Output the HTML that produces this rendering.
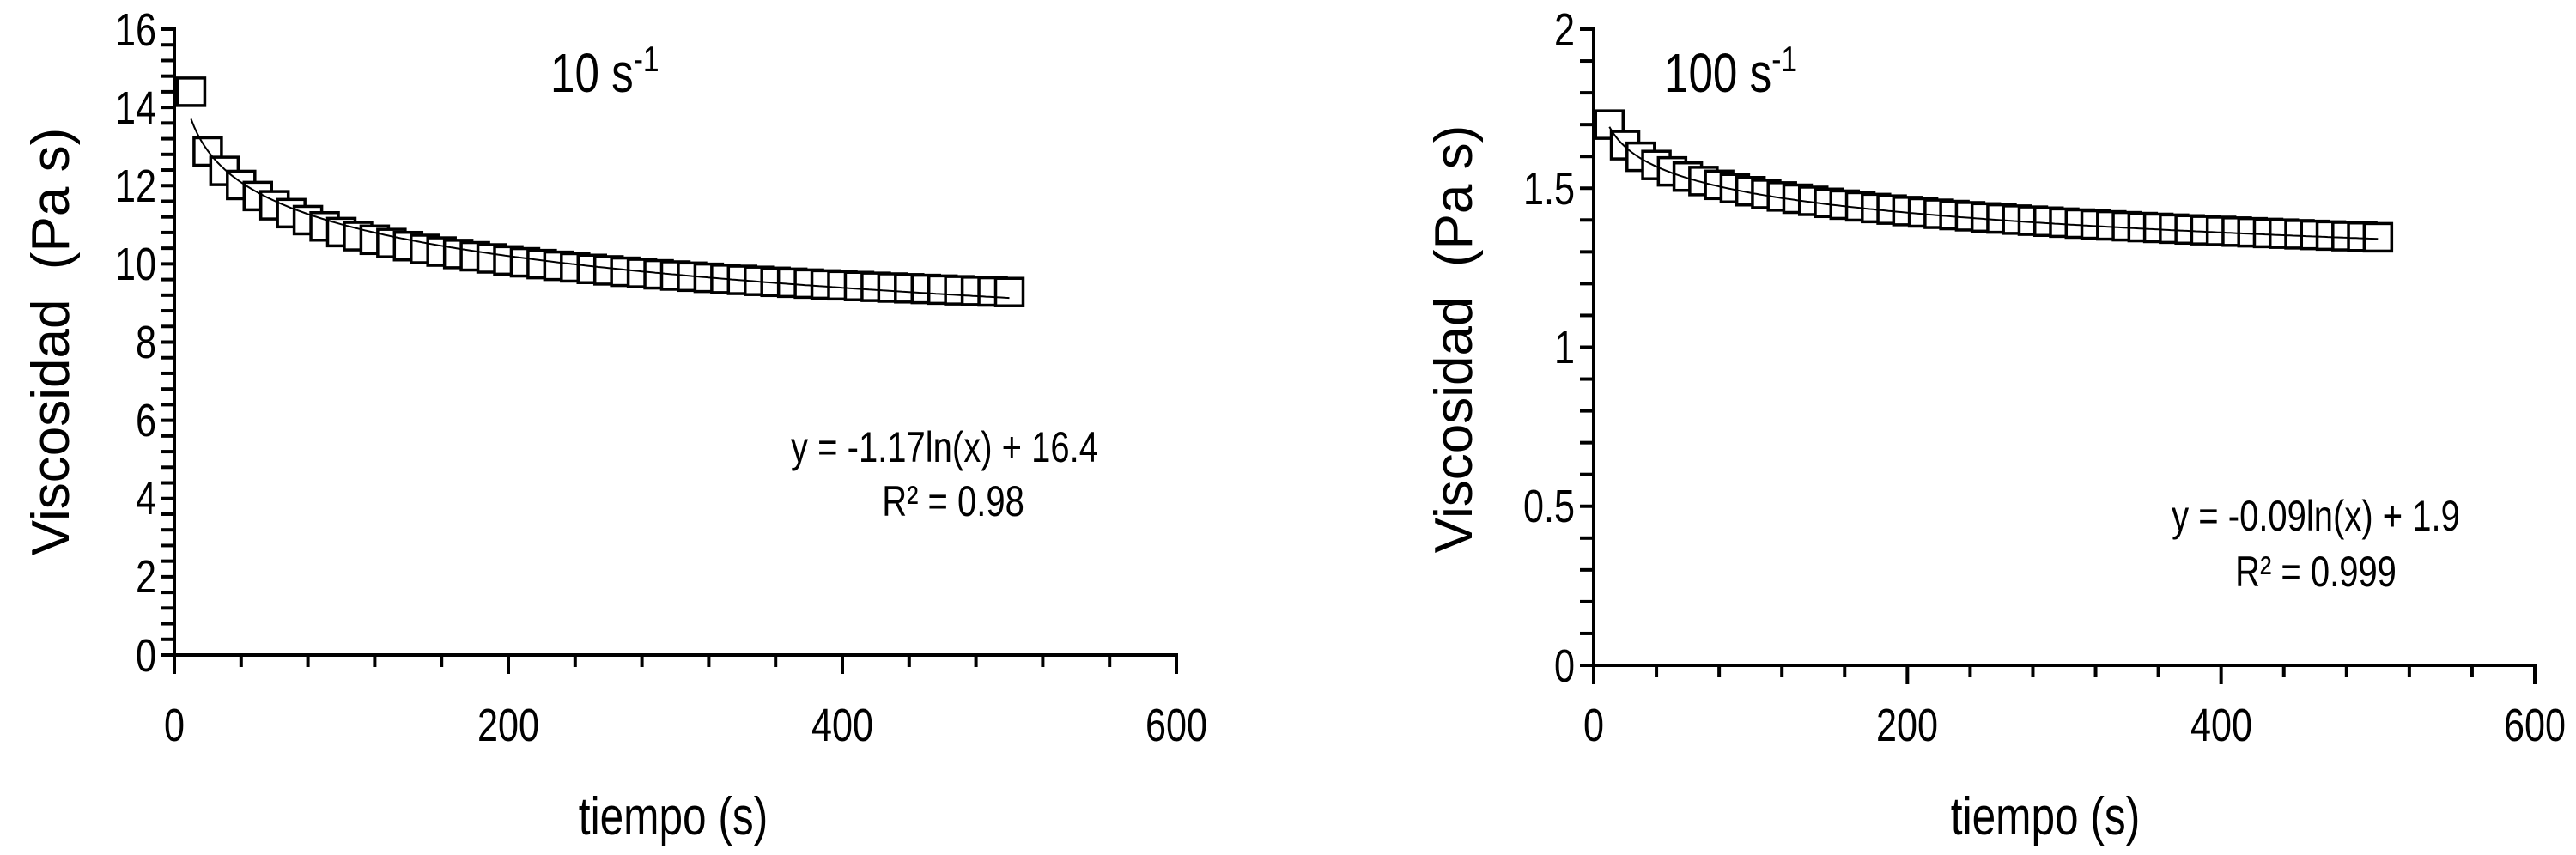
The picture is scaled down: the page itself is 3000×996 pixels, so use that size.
<!DOCTYPE html>
<html><head><meta charset="utf-8">
<style>
html,body{margin:0;padding:0;background:#fff;}
svg{display:block;}
.t{font-family:"Liberation Sans",sans-serif;fill:#000;}
.l{font-family:"Liberation Sans",sans-serif;fill:#000;}
</style></head>
<body>
<svg id="s" width="3000" height="996" viewBox="0 0 3000 996" xmlns="http://www.w3.org/2000/svg">
<text class="t" x="182" y="53" font-size="54" text-anchor="end">16</text>
<text class="t" x="182" y="144" font-size="54" text-anchor="end">14</text>
<text class="t" x="182" y="235" font-size="54" text-anchor="end">12</text>
<text class="t" x="182" y="326" font-size="54" text-anchor="end">10</text>
<text class="t" x="182" y="417" font-size="54" text-anchor="end">8</text>
<text class="t" x="182" y="508" font-size="54" text-anchor="end">6</text>
<text class="t" x="182" y="599" font-size="54" text-anchor="end">4</text>
<text class="t" x="182" y="690" font-size="54" text-anchor="end">2</text>
<text class="t" x="182" y="782" font-size="54" text-anchor="end">0</text>
<text class="t" x="203" y="863" font-size="54" text-anchor="middle">0</text>
<text class="t" x="592" y="863" font-size="54" text-anchor="middle">200</text>
<text class="t" x="981" y="863" font-size="54" text-anchor="middle">400</text>
<text class="t" x="1370" y="863" font-size="54" text-anchor="middle">600</text>
<text class="t" x="784" y="972" font-size="62" text-anchor="middle">tiempo (s)</text>
<text class="l" transform="translate(80,398) rotate(-90)" font-size="62" text-anchor="middle">Viscosidad&#160;&#160;(Pa s)</text>
<text class="t" x="641" y="107" font-size="64">10 s<tspan dy="-24" font-size="42">-1</tspan></text>
<text class="t" x="1100" y="538" font-size="50" text-anchor="middle">y = -1.17ln(x) + 16.4</text>
<text class="t" x="1110" y="601" font-size="50" text-anchor="middle">R² = 0.98</text>
<text class="t" x="1834" y="53" font-size="54" text-anchor="end">2</text>
<text class="t" x="1834" y="238" font-size="54" text-anchor="end">1.5</text>
<text class="t" x="1834" y="423" font-size="54" text-anchor="end">1</text>
<text class="t" x="1834" y="608" font-size="54" text-anchor="end">0.5</text>
<text class="t" x="1834" y="794" font-size="54" text-anchor="end">0</text>
<text class="t" x="1856" y="863" font-size="54" text-anchor="middle">0</text>
<text class="t" x="2221" y="863" font-size="54" text-anchor="middle">200</text>
<text class="t" x="2587" y="863" font-size="54" text-anchor="middle">400</text>
<text class="t" x="2952" y="863" font-size="54" text-anchor="middle">600</text>
<text class="t" x="2382" y="972" font-size="62" text-anchor="middle">tiempo (s)</text>
<text class="l" transform="translate(1714,395) rotate(-90)" font-size="62" text-anchor="middle">Viscosidad&#160;&#160;(Pa s)</text>
<text class="t" x="1938" y="107" font-size="64">100 s<tspan dy="-24" font-size="42">-1</tspan></text>
<text class="t" x="2697" y="618" font-size="50" text-anchor="middle">y = -0.09ln(x) + 1.9</text>
<text class="t" x="2697" y="683" font-size="50" text-anchor="middle">R² = 0.999</text>
<g id="g"></g>
</svg>
<script>
(function(){
var ts=document.querySelectorAll('text.t');
for(var i=0;i<ts.length;i++){var e=ts[i];var x=e.getAttribute('x'),y=e.getAttribute('y');
 e.setAttribute('x',0);e.setAttribute('y',0);
 e.setAttribute('transform','translate('+x+','+y+') scale(0.8,1)');}
var g=document.getElementById('g'),h='';
function chart(ax,y0,ytop,ymax,xmax,ymin,fit,first,off){
  var sx=(xmax-ax)/600, sy=(y0-ytop)/ymax;
  h+='<line x1="'+ax+'" y1="'+(ytop-2)+'" x2="'+ax+'" y2="'+(y0+2)+'" stroke="#000" stroke-width="4"/>';
  h+='<line x1="'+(ax-2)+'" y1="'+y0+'" x2="'+(xmax+2)+'" y2="'+y0+'" stroke="#000" stroke-width="4"/>';
  var n=Math.round(ymax/ymin);
  for(var i=0;i<=n;i++){var y=y0-i*ymin*sy;h+='<line x1="'+(ax-16)+'" y1="'+y+'" x2="'+ax+'" y2="'+y+'" stroke="#000" stroke-width="4"/>';}
  for(var i=0;i<=15;i++){var x=ax+i*40*sx;var L=(i%5==0)?22:14;h+='<line x1="'+x+'" y1="'+y0+'" x2="'+x+'" y2="'+(y0+L)+'" stroke="#000" stroke-width="4"/>';}
  for(var k=1;k<=50;k++){var t=k*10;var v=(k==1)?first:fit(t)+off(t);
    var px=ax+t*sx,py=y0-v*sy;
    h+='<rect x="'+(px-16)+'" y="'+(py-16)+'" width="32" height="32" fill="#fff" stroke="#000" stroke-width="3.5"/>';}
  var d='';for(var t=10;t<=500;t+=2){d+=(t==10?'M':'L')+(ax+t*sx).toFixed(1)+' '+(y0-fit(t)*sy).toFixed(1);}
  h+='<path d="'+d+'" fill="none" stroke="#000" stroke-width="2"/>';
}
chart(203,763,34,16,1370,0.4,function(x){return -1.17*Math.log(x)+16.4;},14.4,function(t){return t<100?-0.2*(t-10)/90:-0.2+0.35*(t-100)/400;});
chart(1856,775,34,2,2952,0.1,function(x){return -0.09*Math.log(x)+1.9;},1.7,function(t){return 0.005;});
g.innerHTML=h;
})();
</script>
</body></html>
